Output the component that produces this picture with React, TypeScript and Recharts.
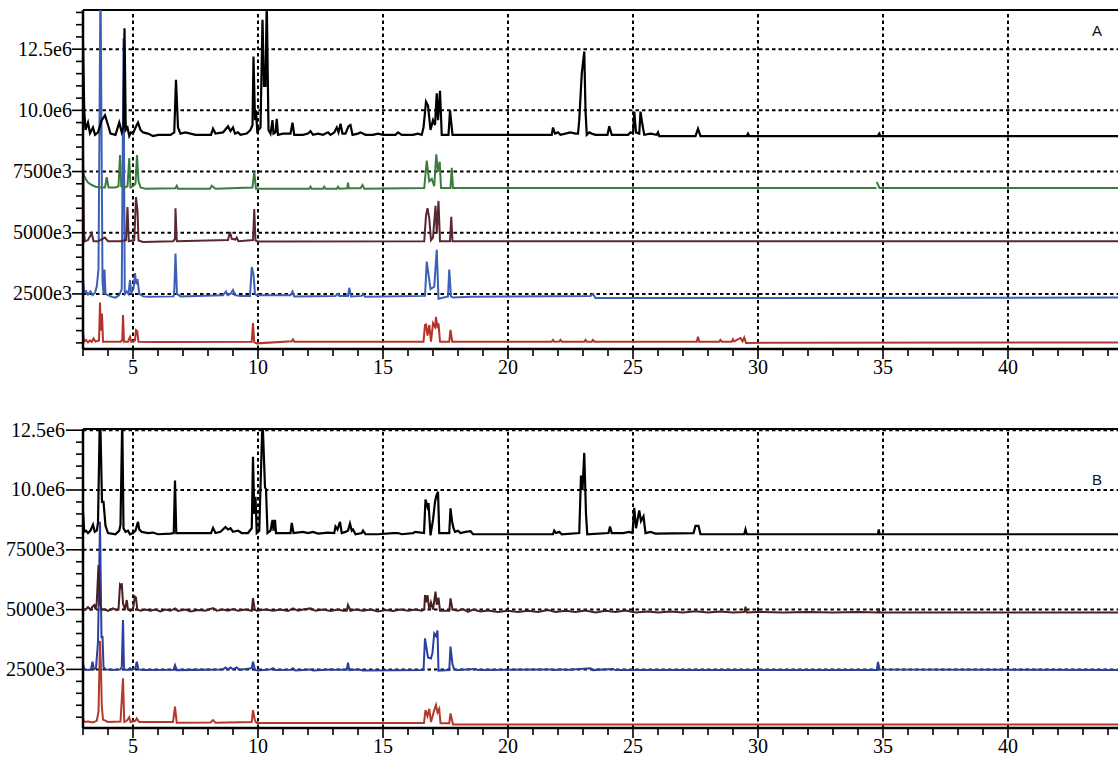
import React from 'react';
import { LineChart, Line, XAxis, YAxis, ReferenceLine } from 'recharts';

type Pt = [number, number | null];

// ---------- axis / tick data ----------
const xDomain: [number, number] = [3, 44.4];
const xMajorTicks = [5, 10, 15, 20, 25, 30, 35, 40];
const xAllTicks = Array.from({ length: 42 }, (_, i) => 3 + i);
const yMajorTicks = [2.5, 5, 7.5, 10, 12.5];
const yMajorLabels = ['2500e3', '5000e3', '7500e3', '10.0e6', '12.5e6'];
const yDomainA: [number, number] = [0.25, 14.1];
const yDomainB: [number, number] = [0.05, 12.55];
const yMinorA = Array.from({ length: 28 }, (_, i) => 0.5 * (i + 1));
const yMinorB = Array.from({ length: 25 }, (_, i) => 0.5 * (i + 1));

// ---------- panel A series (values in 1e6) ----------
const blackA: Pt[] = [
  [3.0, 12.75], [3.05, 10.0], [3.1, 9.2], [3.2, 9.5], [3.28, 9.07], [3.4, 9.3], [3.48, 9.0], [3.6, 9.1],
  [3.75, 9.6], [3.88, 9.8], [4.0, 9.4], [4.1, 9.05], [4.3, 9.0], [4.45, 9.5], [4.55, 9.1], [4.62, 9.3],
  [4.66, 13.35], [4.71, 9.2], [4.78, 9.3], [4.85, 8.95], [4.92, 9.1], [5.0, 9.05], [5.1, 9.3], [5.2, 9.5],
  [5.3, 9.2], [5.4, 9.1], [5.6, 9.05], [5.8, 8.95], [6.0, 9.0], [6.5, 9.0], [6.65, 9.1], [6.72, 11.25],
  [6.8, 9.3], [6.9, 9.05], [7.1, 9.1], [7.5, 9.0], [8.0, 9.0], [8.12, 9.0], [8.2, 9.25], [8.3, 9.05],
  [8.6, 9.1], [8.8, 9.35], [8.9, 9.15], [9.0, 9.3], [9.08, 9.05], [9.2, 9.1], [9.3, 9.0], [9.55, 9.05],
  [9.7, 9.2], [9.78, 9.4], [9.82, 12.2], [9.88, 9.6], [9.92, 10.0], [9.97, 9.15], [10.1, 9.3], [10.18, 13.7],
  [10.24, 11.0], [10.3, 11.0], [10.35, 14.5], [10.42, 9.2], [10.5, 9.05], [10.58, 9.6], [10.62, 9.05],
  [10.7, 9.1], [10.75, 9.65], [10.8, 9.0], [11.0, 9.05], [11.3, 9.05], [11.38, 9.5], [11.45, 9.0],
  [11.8, 9.0], [12.0, 9.05], [12.1, 9.15], [12.2, 9.0], [12.4, 9.05], [12.6, 9.0], [12.8, 9.1], [12.9, 9.0],
  [13.05, 9.1], [13.15, 9.3], [13.22, 9.1], [13.3, 9.45], [13.38, 9.05], [13.5, 9.05], [13.62, 9.35],
  [13.7, 9.4], [13.78, 9.0], [14.0, 9.05], [14.1, 9.1], [14.3, 9.0], [14.6, 9.0], [14.8, 9.05], [15.0, 9.0],
  [15.5, 9.0], [15.6, 9.1], [15.75, 9.0], [16.2, 9.0], [16.4, 9.05], [16.55, 9.0], [16.62, 9.3],
  [16.72, 10.35], [16.8, 10.2], [16.9, 9.2], [17.0, 9.6], [17.08, 9.4], [17.15, 10.7], [17.2, 9.6],
  [17.28, 10.8], [17.35, 9.0], [17.62, 9.0], [17.68, 10.0], [17.78, 9.0], [18.0, 9.0], [21.75, 9.0],
  [21.8, 9.3], [21.88, 9.05], [22.0, 9.1], [22.1, 9.0], [22.5, 9.1], [22.7, 9.05], [22.8, 9.05],
  [22.85, 9.6], [22.95, 11.5], [23.05, 12.4], [23.1, 10.0], [23.15, 9.0], [23.25, 9.1], [23.35, 9.05],
  [23.5, 9.0], [23.98, 9.0], [24.05, 9.35], [24.15, 9.0], [24.8, 9.0], [24.9, 9.1], [25.0, 9.05],
  [25.05, 9.95], [25.12, 9.1], [25.25, 9.05], [25.3, 9.95], [25.38, 9.4], [25.45, 9.0], [25.7, 9.05],
  [25.95, 9.0], [26.0, 9.1], [26.05, 8.95], [27.5, 8.95], [27.6, 9.25], [27.7, 8.95], [29.55, 8.95],
  [29.6, 9.05], [29.65, 8.95], [34.8, 8.95], [34.85, 9.05], [34.9, 8.95], [44.4, 8.95],
];

const greenA: Pt[] = [
  [3.0, 7.45], [3.1, 7.2], [3.2, 7.05], [3.35, 6.95], [3.5, 6.88], [3.7, 6.85], [3.88, 6.85], [3.95, 7.27],
  [4.02, 6.85], [4.3, 6.85], [4.42, 6.9], [4.48, 8.17], [4.53, 6.9], [4.65, 6.85], [4.78, 6.9], [4.85, 8.05],
  [4.9, 6.85], [5.0, 6.9], [5.1, 7.0], [5.16, 8.17], [5.22, 7.1], [5.3, 6.85], [5.5, 6.8], [6.7, 6.82],
  [6.75, 6.92], [6.8, 6.8], [8.08, 6.8], [8.15, 6.92], [8.3, 6.8], [9.78, 6.85], [9.85, 7.5], [9.92, 6.8],
  [12.05, 6.8], [12.1, 6.88], [12.15, 6.8], [12.6, 6.8], [12.65, 6.88], [12.7, 6.8], [13.15, 6.8],
  [13.2, 6.88], [13.25, 6.8], [13.57, 6.82], [13.6, 7.05], [13.63, 6.82], [14.1, 6.82], [14.18, 6.95],
  [14.25, 6.8], [16.65, 6.83], [16.75, 7.95], [16.85, 7.1], [16.95, 7.2], [17.05, 6.9], [17.13, 8.2],
  [17.2, 7.5], [17.27, 7.9], [17.32, 6.83], [17.7, 6.83], [17.75, 7.65], [17.8, 6.83], [34.74, 6.83],
  [34.745, null], [34.75, 7.08], [34.86, 6.83], [44.4, 6.83],
];

const maroonA: Pt[] = [
  [3.0, 8.4], [3.04, 5.0], [3.08, 4.65], [3.2, 4.7], [3.35, 4.98], [3.42, 4.65], [3.6, 4.65], [3.88, 4.8],
  [4.0, 4.65], [4.5, 4.65], [4.72, 4.7], [4.78, 6.05], [4.83, 4.65], [5.05, 4.7], [5.12, 6.46], [5.18, 5.9],
  [5.22, 4.68], [5.4, 4.62], [6.6, 4.65], [6.68, 4.75], [6.7, 6.0], [6.75, 4.65], [8.8, 4.7], [8.88, 5.03],
  [8.95, 4.75], [9.1, 4.72], [9.15, 4.8], [9.22, 4.65], [9.8, 4.7], [9.85, 5.97], [9.9, 4.68], [10.0, 4.64],
  [16.65, 4.65], [16.72, 5.7], [16.78, 6.0], [16.85, 5.6], [16.92, 4.7], [17.0, 4.8], [17.1, 6.1],
  [17.15, 5.0], [17.22, 6.3], [17.28, 4.65], [17.68, 4.65], [17.73, 5.65], [17.78, 4.65], [44.4, 4.65],
];

const blueA: Pt[] = [
  [3.0, 3.15], [3.05, 2.55], [3.12, 2.62], [3.2, 2.48], [3.3, 2.6], [3.38, 2.45], [3.48, 2.55], [3.55, 2.8],
  [3.62, 3.5], [3.7, 15.5], [3.78, 3.0], [3.82, 2.5], [3.86, 3.5], [3.9, 2.5], [4.0, 2.45], [4.15, 2.38],
  [4.3, 2.35], [4.45, 2.45], [4.55, 2.7], [4.62, 12.95], [4.67, 2.5], [4.75, 2.6], [4.82, 2.5], [4.88, 3.07],
  [4.93, 2.55], [5.02, 2.7], [5.08, 3.35], [5.13, 2.9], [5.18, 3.1], [5.25, 2.5], [5.4, 2.4], [5.6, 2.38],
  [6.62, 2.4], [6.65, 2.6], [6.7, 4.15], [6.76, 2.5], [6.9, 2.4], [8.6, 2.45], [8.72, 2.6], [8.78, 2.45],
  [8.9, 2.5], [9.0, 2.66], [9.08, 2.45], [9.3, 2.42], [9.68, 2.42], [9.75, 3.6], [9.82, 3.3], [9.88, 2.5],
  [9.95, 2.45], [11.3, 2.45], [11.38, 2.6], [11.45, 2.4], [13.1, 2.42], [13.2, 2.5], [13.25, 2.42],
  [13.6, 2.42], [13.65, 2.75], [13.72, 2.4], [14.15, 2.42], [14.2, 2.5], [14.28, 2.38], [16.68, 2.42],
  [16.75, 3.82], [16.9, 2.7], [17.05, 2.8], [17.15, 4.3], [17.22, 2.3], [17.6, 2.4], [17.65, 3.5],
  [17.72, 2.4], [17.8, 2.35], [18.5, 2.38], [23.3, 2.42], [23.4, 2.5], [23.5, 2.33], [44.4, 2.35],
];

const redA: Pt[] = [
  [3.0, 0.9], [3.05, 0.55], [3.12, 0.62], [3.2, 0.52], [3.28, 0.6], [3.35, 0.54], [3.42, 0.68], [3.5, 0.55],
  [3.64, 0.6], [3.68, 2.15], [3.71, 1.0], [3.76, 1.7], [3.8, 0.55], [4.0, 0.55], [4.5, 0.55], [4.57, 0.6],
  [4.6, 1.64], [4.64, 0.55], [4.8, 0.55], [4.88, 0.74], [4.93, 0.55], [5.08, 0.6], [5.12, 1.02],
  [5.17, 0.98], [5.22, 0.55], [6.0, 0.54], [9.75, 0.55], [9.8, 1.31], [9.85, 0.52], [9.95, 0.48],
  [11.35, 0.57], [11.4, 0.64], [11.45, 0.55], [16.62, 0.55], [16.68, 1.23], [16.72, 1.25], [16.78, 0.8],
  [16.85, 1.23], [16.92, 0.55], [17.0, 1.3], [17.08, 1.15], [17.12, 1.56], [17.18, 1.1], [17.22, 1.3],
  [17.28, 0.55], [17.65, 0.55], [17.7, 1.03], [17.77, 0.55], [21.75, 0.55], [21.8, 0.62], [21.85, 0.55],
  [22.05, 0.56], [22.1, 0.62], [22.15, 0.55], [23.05, 0.55], [23.1, 0.62], [23.15, 0.55], [23.35, 0.55],
  [23.4, 0.62], [23.45, 0.55], [27.55, 0.55], [27.6, 0.75], [27.65, 0.55], [28.45, 0.55], [28.5, 0.62],
  [28.55, 0.55], [28.95, 0.55], [29.0, 0.65], [29.05, 0.56], [29.3, 0.7], [29.38, 0.56], [29.45, 0.72],
  [29.52, 0.5], [44.4, 0.52],
];

// ---------- panel B series (values in 1e6) ----------
const blackB: Pt[] = [
  [3.0, 9.1], [3.05, 8.25], [3.12, 8.3], [3.2, 8.2], [3.3, 8.3], [3.4, 8.55], [3.47, 8.25], [3.55, 8.3],
  [3.6, 8.62], [3.68, 13.5], [3.76, 9.5], [3.82, 9.5], [3.9, 8.5], [4.0, 8.2], [4.3, 8.15], [4.45, 8.3],
  [4.5, 8.55], [4.57, 13.0], [4.62, 8.4], [4.7, 8.25], [4.8, 8.3], [4.88, 8.15], [5.0, 8.2], [5.1, 8.3],
  [5.2, 8.67], [5.25, 8.35], [5.35, 8.25], [5.6, 8.2], [5.8, 8.22], [6.0, 8.15], [6.5, 8.18], [6.63, 8.2],
  [6.68, 10.4], [6.73, 8.2], [7.0, 8.2], [7.5, 8.2], [8.12, 8.2], [8.2, 8.41], [8.3, 8.2], [8.5, 8.25],
  [8.7, 8.45], [8.8, 8.35], [8.9, 8.4], [9.0, 8.25], [9.2, 8.3], [9.35, 8.2], [9.6, 8.2], [9.75, 8.4],
  [9.8, 11.39], [9.85, 9.0], [9.9, 9.72], [9.95, 8.2], [10.05, 8.3], [10.18, 13.0], [10.28, 10.1],
  [10.32, 10.05], [10.38, 8.2], [10.5, 8.3], [10.58, 8.75], [10.62, 8.3], [10.68, 8.75], [10.72, 8.2],
  [11.0, 8.2], [11.3, 8.2], [11.35, 8.62], [11.42, 8.2], [11.8, 8.25], [12.0, 8.2], [12.2, 8.25],
  [12.4, 8.18], [12.8, 8.22], [13.05, 8.2], [13.1, 8.47], [13.18, 8.35], [13.28, 8.67], [13.35, 8.2],
  [13.5, 8.25], [13.6, 8.3], [13.68, 8.6], [13.75, 8.3], [13.8, 8.35], [13.9, 8.15], [14.15, 8.2],
  [14.2, 8.3], [14.3, 8.15], [14.8, 8.15], [15.4, 8.2], [15.6, 8.2], [15.75, 8.15], [16.2, 8.2],
  [16.3, 8.25], [16.64, 8.2], [16.7, 9.6], [16.78, 9.3], [16.82, 9.45], [16.9, 8.1], [17.0, 8.75],
  [17.08, 9.5], [17.13, 9.75], [17.2, 9.93], [17.25, 8.2], [17.65, 8.2], [17.7, 9.23], [17.76, 8.7],
  [17.82, 8.4], [17.88, 8.25], [18.0, 8.3], [18.1, 8.2], [18.3, 8.25], [18.5, 8.28], [18.6, 8.15],
  [21.8, 8.15], [21.85, 8.3], [21.92, 8.2], [22.05, 8.25], [22.15, 8.15], [22.85, 8.2], [22.92, 10.6],
  [22.98, 10.0], [23.05, 11.55], [23.12, 9.0], [23.17, 8.15], [24.02, 8.2], [24.08, 8.47], [24.15, 8.2],
  [24.6, 8.2], [24.85, 8.25], [24.98, 8.2], [25.05, 9.25], [25.12, 8.4], [25.25, 9.15], [25.32, 8.7],
  [25.42, 8.9], [25.5, 8.2], [25.7, 8.25], [25.9, 8.18], [27.42, 8.2], [27.5, 8.5], [27.62, 8.5],
  [27.7, 8.15], [29.45, 8.15], [29.5, 8.35], [29.55, 8.15], [34.8, 8.15], [34.83, 8.35], [34.86, 8.15],
  [44.4, 8.15],
];

const maroonB: Pt[] = [
  [3.0, 4.98], [3.1, 5.0], [3.2, 5.1], [3.3, 5.0], [3.38, 5.12], [3.45, 5.19], [3.5, 5.0], [3.55, 5.3],
  [3.62, 6.86], [3.68, 5.2], [3.75, 5.0], [3.9, 5.0], [4.0, 4.95], [4.2, 5.05], [4.35, 4.98], [4.42, 5.0],
  [4.48, 6.03], [4.52, 5.96], [4.55, 6.1], [4.6, 5.26], [4.68, 5.0], [4.75, 5.4], [4.8, 5.0], [4.9, 4.95],
  [5.0, 5.0], [5.07, 5.54], [5.12, 5.5], [5.17, 5.0], [5.3, 4.95], [5.5, 5.0], [5.7, 4.95], [5.9, 5.0],
  [6.1, 4.92], [6.3, 5.0], [6.5, 4.95], [6.68, 5.05], [6.8, 4.94], [7.1, 5.0], [7.3, 4.92], [7.6, 4.98],
  [7.9, 4.95], [8.2, 5.06], [8.35, 4.95], [8.6, 5.0], [8.8, 4.95], [9.0, 5.02], [9.2, 4.95], [9.5, 5.0],
  [9.75, 4.95], [9.8, 5.48], [9.87, 5.0], [9.95, 4.95], [10.3, 5.0], [10.6, 4.95], [10.9, 5.0], [11.2, 4.94],
  [11.4, 5.05], [11.6, 4.95], [11.8, 5.0], [12.1, 5.05], [12.3, 4.95], [12.6, 5.0], [12.9, 4.94],
  [13.2, 5.0], [13.4, 4.95], [13.55, 4.95], [13.6, 5.19], [13.7, 4.95], [13.9, 5.0], [14.2, 4.95],
  [14.5, 5.0], [14.8, 4.92], [15.1, 4.98], [15.4, 4.94], [15.7, 5.0], [16.0, 4.95], [16.3, 5.0],
  [16.55, 4.95], [16.65, 5.0], [16.68, 5.61], [16.72, 5.3], [16.78, 5.6], [16.85, 5.0], [16.92, 5.3],
  [17.0, 5.0], [17.1, 5.75], [17.15, 5.2], [17.22, 5.5], [17.28, 4.95], [17.65, 4.95], [17.7, 5.47],
  [17.78, 5.0], [18.0, 4.95], [18.2, 5.02], [18.4, 4.9], [18.6, 5.0], [18.9, 4.92], [19.2, 4.96],
  [19.6, 4.9], [20.0, 4.95], [20.4, 4.9], [20.8, 4.95], [21.2, 4.9], [21.6, 4.98], [21.9, 4.9],
  [22.3, 4.95], [22.7, 4.9], [23.1, 4.96], [23.5, 4.88], [23.9, 4.95], [24.3, 4.9], [24.7, 4.96],
  [25.1, 4.88], [25.6, 4.92], [26.0, 4.88], [26.5, 4.92], [27.0, 4.88], [27.5, 4.93], [28.0, 4.88],
  [28.5, 4.92], [29.0, 4.88], [29.45, 4.9], [29.5, 5.12], [29.55, 4.88], [30.0, 4.9], [31.0, 4.88],
  [32.0, 4.9], [33.0, 4.88], [34.0, 4.9], [34.8, 4.88], [34.83, 5.05], [34.86, 4.88], [44.4, 4.88],
];

const blueB: Pt[] = [
  [3.0, 2.75], [3.05, 2.5], [3.2, 2.48], [3.32, 2.5], [3.38, 2.82], [3.44, 2.5], [3.52, 2.55], [3.6, 3.65],
  [3.68, 8.67], [3.74, 3.8], [3.78, 3.9], [3.82, 2.6], [3.9, 2.5], [4.2, 2.48], [4.5, 2.5], [4.55, 2.6],
  [4.6, 4.56], [4.64, 2.5], [4.8, 2.48], [4.88, 2.55], [4.95, 2.48], [5.1, 2.55], [5.15, 2.82], [5.22, 2.5],
  [5.4, 2.47], [6.62, 2.48], [6.68, 2.68], [6.75, 2.47], [8.6, 2.5], [8.7, 2.58], [8.8, 2.5], [8.9, 2.58],
  [9.0, 2.5], [9.15, 2.58], [9.25, 2.48], [9.75, 2.55], [9.8, 2.82], [9.88, 2.48], [10.0, 2.45],
  [10.5, 2.5], [10.6, 2.55], [10.7, 2.47], [11.3, 2.48], [11.4, 2.55], [11.5, 2.45], [12.1, 2.5],
  [12.2, 2.45], [12.9, 2.5], [13.1, 2.48], [13.55, 2.48], [13.6, 2.78], [13.65, 2.47], [14.0, 2.5],
  [14.2, 2.45], [16.62, 2.47], [16.68, 3.8], [16.8, 3.0], [16.92, 2.96], [16.98, 3.2], [17.05, 4.0],
  [17.12, 3.9], [17.18, 4.12], [17.22, 2.45], [17.65, 2.47], [17.7, 3.45], [17.78, 2.7], [17.85, 2.5],
  [18.0, 2.47], [18.7, 2.52], [18.8, 2.47], [21.7, 2.5], [21.8, 2.47], [22.2, 2.5], [22.3, 2.47],
  [23.3, 2.55], [23.4, 2.47], [24.2, 2.52], [24.3, 2.47], [34.75, 2.47], [34.8, 2.81], [34.86, 2.5],
  [44.4, 2.47],
];

const redB: Pt[] = [
  [3.0, 0.45], [3.05, 0.3], [3.2, 0.32], [3.4, 0.28], [3.55, 0.35], [3.62, 0.73], [3.68, 3.7], [3.72, 2.5],
  [3.75, 1.0], [3.8, 0.4], [4.0, 0.3], [4.5, 0.32], [4.6, 2.13], [4.65, 0.3], [4.75, 0.35], [4.85, 0.5],
  [4.9, 0.3], [5.1, 0.35], [5.15, 0.45], [5.25, 0.3], [6.6, 0.3], [6.68, 0.94], [6.75, 0.27], [8.1, 0.28],
  [8.2, 0.38], [8.3, 0.27], [9.75, 0.3], [9.8, 0.8], [9.88, 0.35], [9.95, 0.26], [16.64, 0.26], [16.7, 0.8],
  [16.78, 0.55], [16.85, 0.85], [16.92, 0.3], [17.05, 0.8], [17.12, 1.01], [17.18, 0.7], [17.25, 0.85],
  [17.3, 0.25], [17.65, 0.25], [17.7, 0.66], [17.8, 0.2], [44.4, 0.2],
];

// ---------- helpers ----------
const toRows = (pts: Pt[]) => pts.map(([t, v]) => ({ t, v }));

type Series = { name: string; color: string; width: number; pts: Pt[] };

const seriesA: Series[] = [
  { name: 'redA', color: '#b3342b', width: 2, pts: redA },
  { name: 'blueA', color: '#3d5fb8', width: 2, pts: blueA },
  { name: 'maroonA', color: '#5a2830', width: 2, pts: maroonA },
  { name: 'greenA', color: '#3a7d3c', width: 2, pts: greenA },
  { name: 'blackA', color: '#000000', width: 2.2, pts: blackA },
];

const seriesB: Series[] = [
  { name: 'redB', color: '#b5392b', width: 2, pts: redB },
  { name: 'blueB', color: '#2b3f9f', width: 2, pts: blueB },
  { name: 'maroonB', color: '#4a1f20', width: 2, pts: maroonB },
  { name: 'blackB', color: '#000000', width: 2.2, pts: blackB },
];

const SERIF = '"Liberation Serif", "Times New Roman", serif';

const XTick = (props: any) => {
  const { x, y, payload } = props;
  const isMajor = xMajorTicks.includes(payload.value);
  return (
    <g>
      <line x1={x} x2={x} y1={y} y2={y + (isMajor ? 10 : 7)} stroke="#000" strokeWidth={1.6} />
      {isMajor && (
        <text x={x} y={y + 25} textAnchor="middle" fontFamily={SERIF} fontSize={20} fill="#000">
          {payload.value}
        </text>
      )}
    </g>
  );
};

const makeYTick = (majorLen: number, labelGap: number) => (props: any) => {
  const { x, y, payload } = props;
  const idx = yMajorTicks.indexOf(payload.value);
  const isMajor = idx >= 0;
  return (
    <g>
      <line x1={x - (isMajor ? majorLen : 7)} x2={x} y1={y} y2={y} stroke="#000" strokeWidth={1.6} />
      {isMajor && (
        <text x={x - labelGap} y={y + 6.5} textAnchor="end" fontFamily={SERIF} fontSize={20} fill="#000">
          {yMajorLabels[idx]}
        </text>
      )}
    </g>
  );
};

type PanelProps = {
  top: number;
  height: number;
  yDomain: [number, number];
  yTicks: number[];
  series: Series[];
  majorLen: number;
  labelGap: number;
  label: string;
  labelTop: number;
};

const GRID_DASH = '3.5 3';

const Panel = ({ top, height, yDomain, yTicks, series, majorLen, labelGap, label, labelTop }: PanelProps) => (
  <div style={{ position: 'absolute', left: 0, top, width: 1118, height }}>
    <LineChart width={1118} height={height} margin={{ top: 10, right: 0, bottom: 1, left: 0 }}>
      <XAxis
        type="number"
        dataKey="t"
        domain={xDomain}
        ticks={xAllTicks}
        interval={0}
        allowDataOverflow
        height={30}
        tickLine={false}
        tickSize={0}
        tickMargin={0}
        tick={XTick}
        axisLine={{ stroke: '#000', strokeWidth: 2.5 }}
      />
      <YAxis
        type="number"
        dataKey="v"
        domain={yDomain}
        ticks={yTicks}
        interval={0}
        allowDataOverflow
        width={83}
        tickLine={false}
        tickSize={0}
        tickMargin={0}
        tick={makeYTick(majorLen, labelGap)}
        axisLine={{ stroke: '#000', strokeWidth: 2.5 }}
      />
      {yMajorTicks.map((v) => (
        <ReferenceLine key={'h' + v} y={v} stroke="#000" strokeWidth={2} strokeDasharray={GRID_DASH} />
      ))}
      {xMajorTicks.map((v) => (
        <ReferenceLine key={'v' + v} x={v} stroke="#000" strokeWidth={2} strokeDasharray={GRID_DASH} />
      ))}
      <ReferenceLine y={yDomain[1]} stroke="#000" strokeWidth={2.2} />
      {series.map((s) => (
        <Line
          key={s.name}
          data={toRows(s.pts)}
          dataKey="v"
          type="linear"
          stroke={s.color}
          strokeWidth={s.width}
          dot={false}
          activeDot={false}
          isAnimationActive={false}
          connectNulls={false}
        />
      ))}
    </LineChart>
    <div
      style={{
        position: 'absolute',
        left: 1092,
        top: labelTop,
        fontFamily: '"Liberation Sans", Arial, sans-serif',
        fontSize: 15,
        lineHeight: '15px',
        color: '#111',
      }}
    >
      {label}
    </div>
  </div>
);

export default function App() {
  return (
    <div style={{ position: 'absolute', left: 0, top: 0, width: 1118, height: 758, background: '#fff' }}>
      <Panel
        top={0}
        height={380}
        yDomain={yDomainA}
        yTicks={yMinorA}
        series={seriesA}
        majorLen={11}
        labelGap={11}
        label="A"
        labelTop={23}
      />
      <Panel
        top={419}
        height={340}
        yDomain={yDomainB}
        yTicks={yMinorB}
        series={seriesB}
        majorLen={17}
        labelGap={18}
        label="B"
        labelTop={53}
      />
    </div>
  );
}
